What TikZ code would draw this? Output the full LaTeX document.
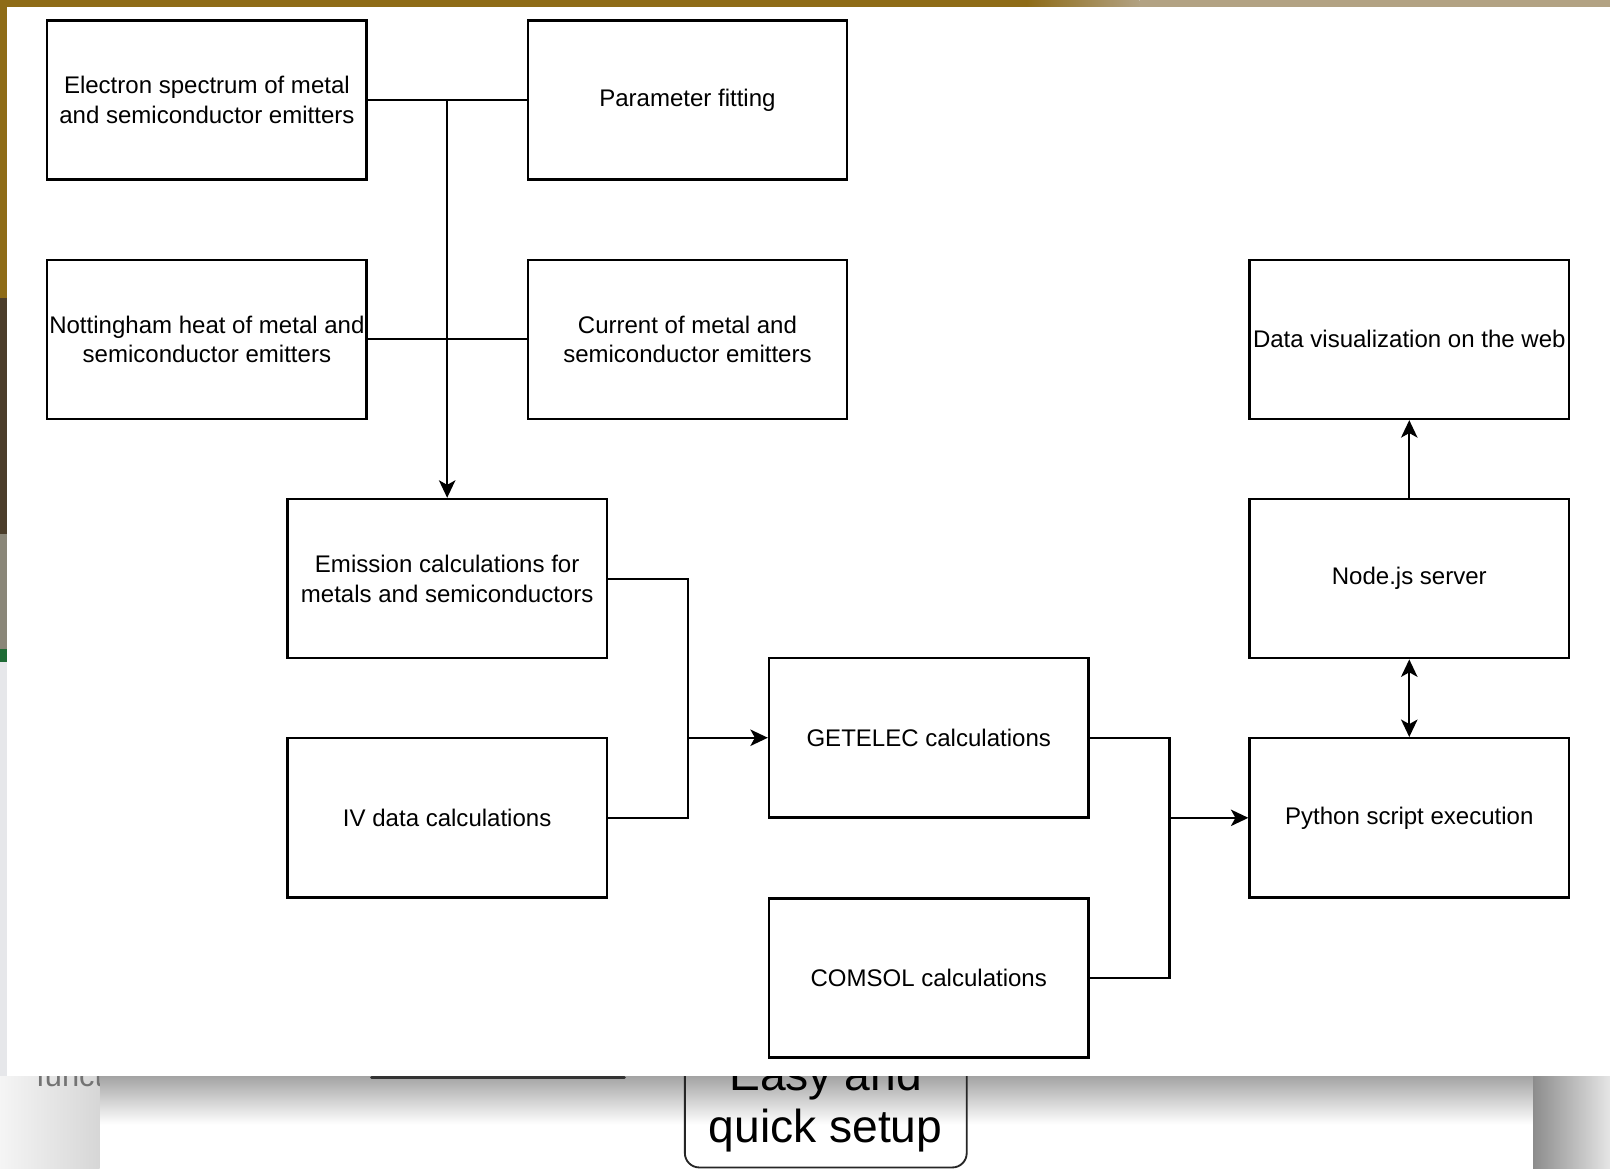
\documentclass[tikz,border=0pt]{standalone}
\usepackage{fontspec}
\setmainfont{Liberation Sans}
\usetikzlibrary{arrows.meta}
\definecolor{gold}{HTML}{8E6B17}
\definecolor{beige}{HTML}{B2A283}
\definecolor{bgl}{HTML}{E6E7EA}
\definecolor{darkbr}{HTML}{4B3D2A}
\definecolor{stone}{HTML}{8A8678}
\definecolor{grn}{HTML}{1E6B35}
\begin{document}
\begin{tikzpicture}[x=0.5pt,y=-0.5pt,
  box/.style={draw=black, line width=1.2pt, fill=white, minimum width=155.5pt,
    minimum height=77.5pt, inner sep=0pt, align=center,
    font=\fontsize{11.7}{14.5}\selectfont},
  conn/.style={line width=1pt, draw=black},
  tip/.tip={Stealth[length=8.5pt,width=8pt,inset=2.2pt]},
  arr/.style={conn, -tip},
  darr/.style={conn, tip-tip},
  bigtxt/.style={font=\fontsize{22.5}{25.5}\selectfont, anchor=base, inner sep=0pt}
]
\useasboundingbox (0,0) rectangle (1568,1138);
% ---------- background (screenshot surroundings) ----------
\fill[bgl] (0,0) rectangle (1568,1138);
\fill[gold] (0,0) rectangle (1000,8);
\shade[left color=gold, right color=beige] (1000,0) rectangle (1110,8);
\fill[beige] (1110,0) rectangle (1568,8);
\fill[gold] (0,0) rectangle (8,290);
\fill[darkbr] (0,290) rectangle (8,520);
\fill[stone] (0,520) rectangle (8,632);
\fill[grn] (0,632) rectangle (8,645);
\fill[white] (97,1048) rectangle (1493,1138);
\shade[top color=black!36, bottom color=white] (97,1048) rectangle (1493,1095);
\shade[left color=black!4, right color=black!16] (0,1048) rectangle (97,1138);
\shade[left color=black!45, right color=black!10] (1493,1048) rectangle (1568,1138);
\draw[line width=1.5pt, black!80, line cap=round] (362,1049) -- (608,1049);
\begin{scope}
  \clip (0,1040) rectangle (97,1138);
  \node[font=\fontsize{15}{18}\selectfont, text=black!55, anchor=base west, inner sep=0pt] (fn) at (35,1058) {functions};
\end{scope}
\draw[line width=0.9pt, black!85, rounded corners=7pt] (667,1000) -- (667,1137) -- (941.5,1137) -- (941.5,1000);
\node[bigtxt] (easy) at (804,1062) {Easy and};
\node[bigtxt] (quick) at (804,1113) {quick setup};
% ---------- white panel ----------
\fill[white] (7,7) rectangle (1568,1048);
% ---------- diagram ----------
\node[box] (A) at (201.5,97.5) {Electron spectrum of metal\\and semiconductor emitters};
\node[box] (B) at (669.5,97.5) {Parameter fitting};
\node[box] (C) at (201.5,330.5) {Nottingham heat of metal and\\semiconductor emitters};
\node[box] (D) at (669.5,330.5) {Current of metal and\\semiconductor emitters};
\node[box] (E) at (435.5,563.5) {Emission calculations for\\metals and semiconductors};
\node[box] (F) at (435.5,796.5) {IV data calculations};
\node[box] (G) at (904.5,718.5) {GETELEC calculations};
\node[box] (H) at (904.5,952.5) {COMSOL calculations};
\node[box] (I) at (1372.5,330.5) {Data visualization on the web};
\node[box] (J) at (1372.5,563.5) {Node.js server};
\node[box] (K) at (1372.5,796.5) {Python script execution};
% connectors
\coordinate (jt) at (E.north |- A.east);
\draw[conn] (A.east) -- (B.west);
\draw[conn] (C.east) -- (D.west);
\draw[arr] (jt) -- (E.north);
\coordinate (j1) at (670,718.5);
\draw[conn] (E.east) -| (j1);
\draw[conn] (F.east) -| (j1);
\draw[arr] (j1) -- (G.west);
\coordinate (j2) at (1139,796.5);
\draw[conn] (G.east) -| (j2);
\draw[conn] (H.east) -| (j2);
\draw[arr] (j2) -- (K.west);
\draw[arr] (J.north) -- (I.south);
\draw[darr] (J.south) -- (K.north);
\end{tikzpicture}
\end{document}
